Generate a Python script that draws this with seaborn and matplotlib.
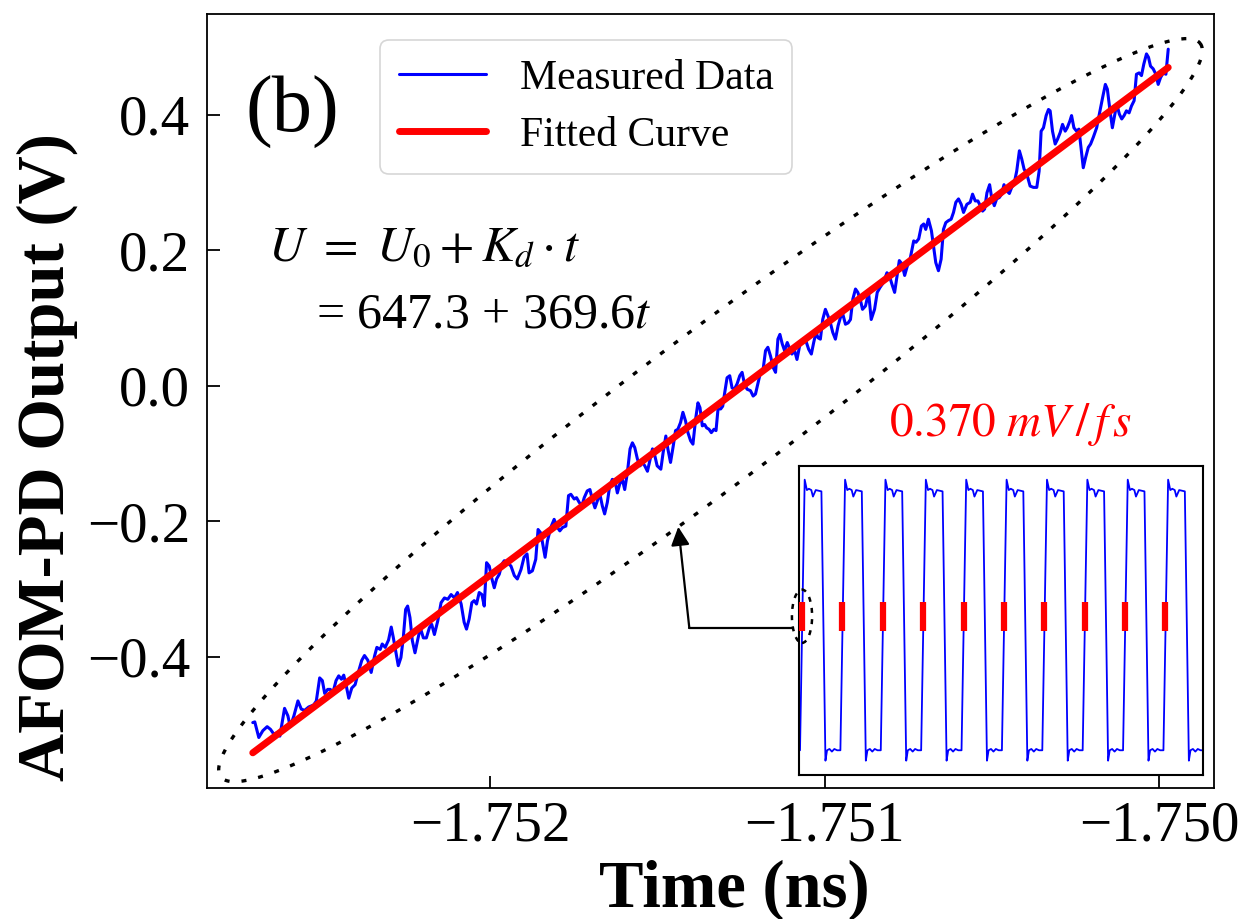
import numpy as np
import matplotlib
matplotlib.use("Agg")
import matplotlib.pyplot as plt
import seaborn as sns
from matplotlib.patches import Ellipse, FancyArrowPatch
from matplotlib.lines import Line2D
from matplotlib.ticker import MultipleLocator, FuncFormatter
from matplotlib.transforms import IdentityTransform

# ---------------------------------------------------------------
# Measured AFOM-PD output around the zero crossing
# time is given as an offset (ps) from T_REF_NS
# ---------------------------------------------------------------
T_REF_NS = -1.752
t_offset_ps = [
    -0.710, -0.704, -0.692, -0.680, -0.667, -0.657, -0.647, -0.637, -0.629, -0.615,
    -0.605, -0.598, -0.587, -0.575, -0.565, -0.555, -0.543, -0.528, -0.520, -0.510,
    -0.502, -0.495, -0.486, -0.478, -0.471, -0.461, -0.453, -0.445, -0.438, -0.430,
    -0.423, -0.414, -0.404, -0.394, -0.384, -0.376, -0.366, -0.356, -0.346, -0.339,
    -0.329, -0.323, -0.314, -0.304, -0.296, -0.290, -0.283, -0.275, -0.267, -0.260,
    -0.253, -0.247, -0.240, -0.233, -0.225, -0.217, -0.209, -0.200, -0.191, -0.182,
    -0.175, -0.167, -0.157,
    -0.147, -0.137, -0.127, -0.117, -0.107, -0.098, -0.087, -0.078, -0.071, -0.063,
    -0.055, -0.048, -0.041, -0.033, -0.025, -0.018, -0.011, -0.003, 0.005, 0.012,
    0.019, 0.027, 0.035, 0.042, 0.052, 0.062, 0.072, 0.081, 0.092, 0.101,
    0.110, 0.116, 0.126, 0.136, 0.143, 0.151, 0.158, 0.164, 0.171, 0.181,
    0.191, 0.201, 0.208, 0.216, 0.226, 0.234, 0.241, 0.251, 0.258, 0.266,
    0.274, 0.281, 0.290, 0.298, 0.305, 0.313, 0.320, 0.327, 0.335, 0.342,
    0.350, 0.357, 0.365, 0.373, 0.380, 0.387,
    0.395, 0.402, 0.410, 0.418, 0.425, 0.432, 0.440, 0.448, 0.455, 0.462,
    0.470, 0.478, 0.485, 0.492, 0.499, 0.510, 0.517, 0.525, 0.531, 0.539,
    0.547, 0.554, 0.561, 0.569, 0.576, 0.584, 0.591, 0.599, 0.606, 0.614,
    0.621, 0.627, 0.634, 0.641, 0.647, 0.654, 0.661, 0.669, 0.675, 0.681,
    0.689, 0.695, 0.701, 0.708, 0.716, 0.723, 0.730, 0.738, 0.746, 0.753,
    0.760, 0.768, 0.778, 0.786, 0.793, 0.800, 0.808, 0.816, 0.823, 0.830,
    0.838, 0.846, 0.853, 0.860, 0.866, 0.873, 0.880, 0.888, 0.896, 0.902,
    0.910, 0.917, 0.925, 0.932, 0.942,
    0.952, 0.960, 0.967, 0.974, 0.980, 0.987, 0.994, 1.002, 1.010, 1.017,
    1.024, 1.032, 1.040, 1.047, 1.054, 1.062, 1.070, 1.077, 1.084, 1.092,
    1.099, 1.107, 1.113, 1.122, 1.131, 1.139, 1.149, 1.157, 1.165, 1.176,
    1.186, 1.193, 1.201, 1.209, 1.216, 1.223, 1.231, 1.239, 1.247, 1.256,
    1.266, 1.273, 1.281, 1.289, 1.296, 1.302, 1.310, 1.319, 1.325, 1.332,
    1.340, 1.348, 1.355, 1.362, 1.370, 1.378, 1.385, 1.392, 1.400, 1.408,
    1.415, 1.425, 1.435, 1.442, 1.450, 1.458, 1.465, 1.472, 1.478, 1.485,
    1.493, 1.499, 1.507, 1.514, 1.522, 1.529, 1.536, 1.544, 1.552, 1.559,
    1.566, 1.574, 1.582, 1.589, 1.596, 1.604, 1.614, 1.624, 1.634, 1.641,
    1.647, 1.654, 1.662, 1.669, 1.674, 1.681, 1.689, 1.696, 1.704, 1.711,
    1.719, 1.725, 1.733, 1.738, 1.745, 1.753, 1.760, 1.766, 1.773, 1.780,
    1.788, 1.795, 1.803, 1.813, 1.823, 1.831, 1.839, 1.845, 1.853, 1.860,
    1.868, 1.873, 1.881, 1.888, 1.895, 1.902, 1.910, 1.917, 1.925, 1.932,
    1.940, 1.947, 1.954, 1.962, 1.968, 1.974, 1.982, 1.990, 1.997, 2.004,
    2.012, 2.020, 2.027,
]
u_measured_v = [
    -0.497, -0.496, -0.519, -0.509, -0.503, -0.507, -0.514, -0.512, -0.517, -0.476,
    -0.487, -0.503, -0.487, -0.465, -0.477, -0.479, -0.474, -0.471, -0.465, -0.431,
    -0.435, -0.454, -0.448, -0.448, -0.454, -0.435, -0.428, -0.433, -0.427, -0.444,
    -0.461, -0.446, -0.441, -0.422, -0.405, -0.398, -0.405, -0.423, -0.399, -0.386,
    -0.389, -0.381, -0.386, -0.375, -0.356, -0.371, -0.391, -0.413, -0.401, -0.372,
    -0.330, -0.325, -0.342, -0.376, -0.394, -0.375, -0.357, -0.372, -0.372, -0.357,
    -0.352, -0.367, -0.347,
    -0.320, -0.313, -0.315, -0.308, -0.313, -0.305, -0.322, -0.349, -0.359, -0.344,
    -0.320, -0.317, -0.322, -0.305, -0.308, -0.325, -0.261, -0.266, -0.285, -0.298,
    -0.285, -0.278, -0.263, -0.258, -0.261, -0.266, -0.280, -0.285, -0.271, -0.253,
    -0.248, -0.276, -0.273, -0.256, -0.212, -0.217, -0.236, -0.253, -0.229, -0.209,
    -0.197, -0.209, -0.214, -0.209, -0.207, -0.162, -0.160, -0.167, -0.165, -0.172,
    -0.177, -0.165, -0.155, -0.153, -0.167, -0.180, -0.170, -0.158, -0.177, -0.189,
    -0.172, -0.148, -0.138, -0.140, -0.158, -0.145,
    -0.138, -0.153, -0.128, -0.093, -0.084, -0.091, -0.108, -0.118, -0.113, -0.118,
    -0.126, -0.108, -0.093, -0.103, -0.118, -0.123, -0.098, -0.074, -0.093, -0.113,
    -0.089, -0.066, -0.064, -0.054, -0.039, -0.052, -0.069, -0.081, -0.086, -0.049,
    -0.025, -0.032, -0.059, -0.057, -0.062, -0.064, -0.069, -0.064, -0.066, -0.034,
    -0.034, -0.030, -0.010, 0.012, 0.015, -0.003, -0.005, 0.003, 0.015, 0.020,
    0.003, -0.005, -0.007, -0.015, -0.012, 0.003, 0.020, 0.025, 0.052, 0.057,
    0.044, 0.027, 0.020, 0.069, 0.076, 0.062, 0.052, 0.064, 0.054, 0.047,
    0.052, 0.039, 0.059, 0.066, 0.069,
    0.054, 0.047, 0.064, 0.079, 0.071, 0.069, 0.098, 0.113, 0.103, 0.093,
    0.079, 0.069, 0.089, 0.101, 0.106, 0.091, 0.093, 0.098, 0.128, 0.143,
    0.138, 0.126, 0.113, 0.118, 0.138, 0.098, 0.113, 0.138, 0.145, 0.153,
    0.167, 0.163, 0.150, 0.138, 0.162, 0.185, 0.180, 0.163, 0.177, 0.189,
    0.214, 0.212, 0.217, 0.236, 0.239, 0.231, 0.246, 0.229, 0.207, 0.182,
    0.170, 0.187, 0.231, 0.241, 0.244, 0.246, 0.256, 0.271, 0.276, 0.268,
    0.256, 0.268, 0.271, 0.283, 0.273, 0.273, 0.266, 0.258, 0.261, 0.285,
    0.297, 0.278, 0.266, 0.276, 0.278, 0.283, 0.297, 0.288, 0.284, 0.293,
    0.298, 0.317, 0.347, 0.335, 0.320, 0.313, 0.295, 0.293, 0.293, 0.317,
    0.376, 0.381, 0.399, 0.408, 0.406, 0.376, 0.357, 0.364, 0.374, 0.386,
    0.376, 0.381, 0.391, 0.399, 0.381, 0.376, 0.379, 0.352, 0.322, 0.337,
    0.352, 0.357, 0.367, 0.381, 0.406, 0.426, 0.445, 0.438, 0.406, 0.381,
    0.403, 0.416, 0.401, 0.394, 0.399, 0.406, 0.403, 0.413, 0.421, 0.460,
    0.462, 0.458, 0.475, 0.490, 0.485, 0.472, 0.468, 0.460, 0.445, 0.455,
    0.462, 0.460, 0.497,
]

# Linear fit U = U0 + Kd * t   (t in ns, U in V)
U0 = 647.26
KD = 369.6

# Inset: square-wave output over ten clock cycles (time in cycles,
# level normalised to the plateau amplitude)
edge_cycles = [0, 1, 2, 3, 4, 5, 6, 7, 8, 9]
cycle_phase = [-0.05, 0.066, 0.12, 0.17, 0.23, 0.27, 0.34, 0.48,
               0.58, 0.62, 0.68, 0.74, 0.80, 0.87, 0.95]
cycle_level = [-1.00, 1.08, 1.00, 1.01, 1.00, 0.95, 1.00, 0.99,
               -1.08, -1.00, -0.99, -1.01, -0.99, -1.00, -1.00]
mark_level = [-0.08, 0.14]

assert len(t_offset_ps) == len(u_measured_v)

# ---------------------------------------------------------------
sns.set_style("ticks")
plt.rcParams["font.family"] = ["Liberation Serif", "DejaVu Serif"]
plt.rcParams["mathtext.fontset"] = "stix"
plt.rcParams["axes.unicode_minus"] = True
for key in ("text.color", "axes.labelcolor", "xtick.color", "ytick.color",
            "axes.edgecolor"):
    plt.rcParams[key] = "black"

BLUE = "#0000FF"
RED = "#FF0000"

W, H = 1247, 919
fig = plt.figure(figsize=(W / 100, H / 100), dpi=100)
fig.patch.set_facecolor("white")
ax = fig.add_axes([207 / W, 1 - 788 / H, (1214 - 207) / W, (788 - 14) / H])

t_ns = T_REF_NS + np.asarray(t_offset_ps) * 1e-3
u_v = np.asarray(u_measured_v)

sns.lineplot(x=t_ns, y=u_v, ax=ax, color=BLUE, linewidth=2.2,
             estimator=None, sort=False, label="Measured Data")

fit_t = np.array([t_ns.min(), t_ns.max()])
fit_u = U0 + KD * fit_t
sns.lineplot(x=fit_t, y=fit_u, ax=ax, color=RED, linewidth=5.0,
             estimator=None, sort=False, label="Fitted Curve")

# freeze the automatic limits before adding decorations
ax.set_xlim(ax.get_xlim())
ax.set_ylim(ax.get_ylim())


def _minus(fmt):
    def f(v, pos):
        s = fmt.format(v)
        if s.strip("-0.") == "":
            s = s.lstrip("-")
        return s.replace("-", "\u2212")
    return FuncFormatter(f)


ax.xaxis.set_major_locator(MultipleLocator(0.001))
ax.xaxis.set_major_formatter(_minus("{:.3f}"))
ax.yaxis.set_major_locator(MultipleLocator(0.2))
ax.yaxis.set_major_formatter(_minus("{:.1f}"))
ax.tick_params(axis="both", direction="in", length=9, width=1.3,
               labelsize=41, colors="black")
ax.tick_params(axis="x", pad=9)
ax.tick_params(axis="y", pad=12)
for sp in ax.spines.values():
    sp.set_visible(True)
    sp.set_color("black")
    sp.set_linewidth(1.3)

ax.set_xlabel("Time (ns)", fontsize=48, fontweight="bold")
ax.set_ylabel("AFOM-PD Output (V)", fontsize=48, fontweight="bold")
ax.xaxis.set_label_coords(0.524, -0.092)
ax.yaxis.set_label_coords(-0.128, 0.428)

leg = ax.legend(loc="upper left", bbox_to_anchor=(0.172, 0.966),
                borderaxespad=0, fontsize=30, handlelength=2.1,
                handletextpad=0.8, labelspacing=0.45, borderpad=0.45,
                frameon=True, fancybox=True)
leg.get_frame().set_edgecolor("0.8")
leg.get_frame().set_linewidth(1.2)
for txt in leg.get_texts():
    txt.set_color("black")

ax.text(0.0844, 0.873, "(b)", transform=ax.transAxes, fontsize=58,
        ha="center", va="center")
ax.text(0.0606, 0.698, r"$U\ =\ U_0 + K_d \cdot t$", transform=ax.transAxes,
        fontsize=36, ha="left", va="center")
ax.text(0.108, 0.611, f"= {U0:.1f} + {KD:.1f}" + r"$t$",
        transform=ax.transAxes, fontsize=36, ha="left", va="center")
ax.text(0.798, 0.469, r"$0.370\ mV\,/\,f\,s$", transform=ax.transAxes,
        fontsize=34, ha="center", va="center", color=RED)

# dotted envelope around the measured ramp, aligned with the fit
ELLIPSE_STRETCH = 1.07
ELLIPSE_HALF_WIDTH_PX = 75
p0, p1 = ax.transData.transform(np.column_stack([fit_t, fit_u]))
centre = (p0 + p1) / 2
along = (p1 - p0) / np.linalg.norm(p1 - p0)
normal = np.array([along[1], -along[0]])
semi_major = ELLIPSE_STRETCH * np.linalg.norm(p1 - p0) / 2
phi = np.linspace(0, 2 * np.pi, 600)
ring = (centre + np.outer(semi_major * np.cos(phi), along)
        + np.outer(ELLIPSE_HALF_WIDTH_PX * np.sin(phi), normal))
ring_data = ax.transData.inverted().transform(ring)
ax.plot(ring_data[:, 0], ring_data[:, 1], color="black", linewidth=2.4,
        linestyle=(0, (1.5, 3.6)), zorder=1)

# ---------------------------------------------------------------
# inset: square wave with the linear-region markers
ax_in = fig.add_axes([799 / W, 1 - 775 / H, 404 / W, 309 / H])
wave_t = [-0.07]
wave_u = [-1.0]
for k in edge_cycles:
    wave_t.extend(np.asarray(cycle_phase) + k)
    wave_u.extend(cycle_level)
sns.lineplot(x=wave_t, y=wave_u, ax=ax_in, color=BLUE, linewidth=1.3,
             estimator=None, sort=False)
ax_in.vlines(edge_cycles, mark_level[0], mark_level[1], colors=RED,
             linewidth=4.5, zorder=3)
ax_in.set_xlim(-0.075, 9.93)
ax_in.set_ylim(-1.19, 1.185)
ax_in.set_xticks([])
ax_in.set_yticks([])
ax_in.set_xlabel("")
ax_in.set_ylabel("")
for sp in ax_in.spines.values():
    sp.set_visible(True)
    sp.set_color("black")
    sp.set_linewidth(1.5)

mark_mid = sum(mark_level) / 2
ew, eh = 0.5, 0.41
ax_in.add_patch(Ellipse((edge_cycles[0], mark_mid), ew, eh, fill=False,
                        edgecolor="black", linewidth=1.8,
                        linestyle=(0, (2.0, 2.5)), clip_on=False, zorder=5))

# arrow from the marked edge back to the envelope
start = ax_in.transData.transform(
    (edge_cycles[0] + ew / 2 * np.cos(np.deg2rad(205)),
     mark_mid + eh / 2 * np.sin(np.deg2rad(205))))
phi_tip = np.deg2rad(99)
tip = (centre + semi_major * np.cos(phi_tip) * along
       + ELLIPSE_HALF_WIDTH_PX * np.sin(phi_tip) * normal)
corner = np.array([tip[0] + 11, start[1]])
fig.add_artist(Line2D([start[0], corner[0]], [start[1], corner[1]],
                      transform=IdentityTransform(), color="black",
                      linewidth=1.6, zorder=6))
fig.add_artist(FancyArrowPatch(tuple(corner), tuple(tip),
                               transform=IdentityTransform(),
                               arrowstyle="-|>", mutation_scale=28,
                               color="black", linewidth=1.6,
                               shrinkA=0, shrinkB=0, zorder=6))

fig.savefig("out.png", dpi=100, facecolor="white")
